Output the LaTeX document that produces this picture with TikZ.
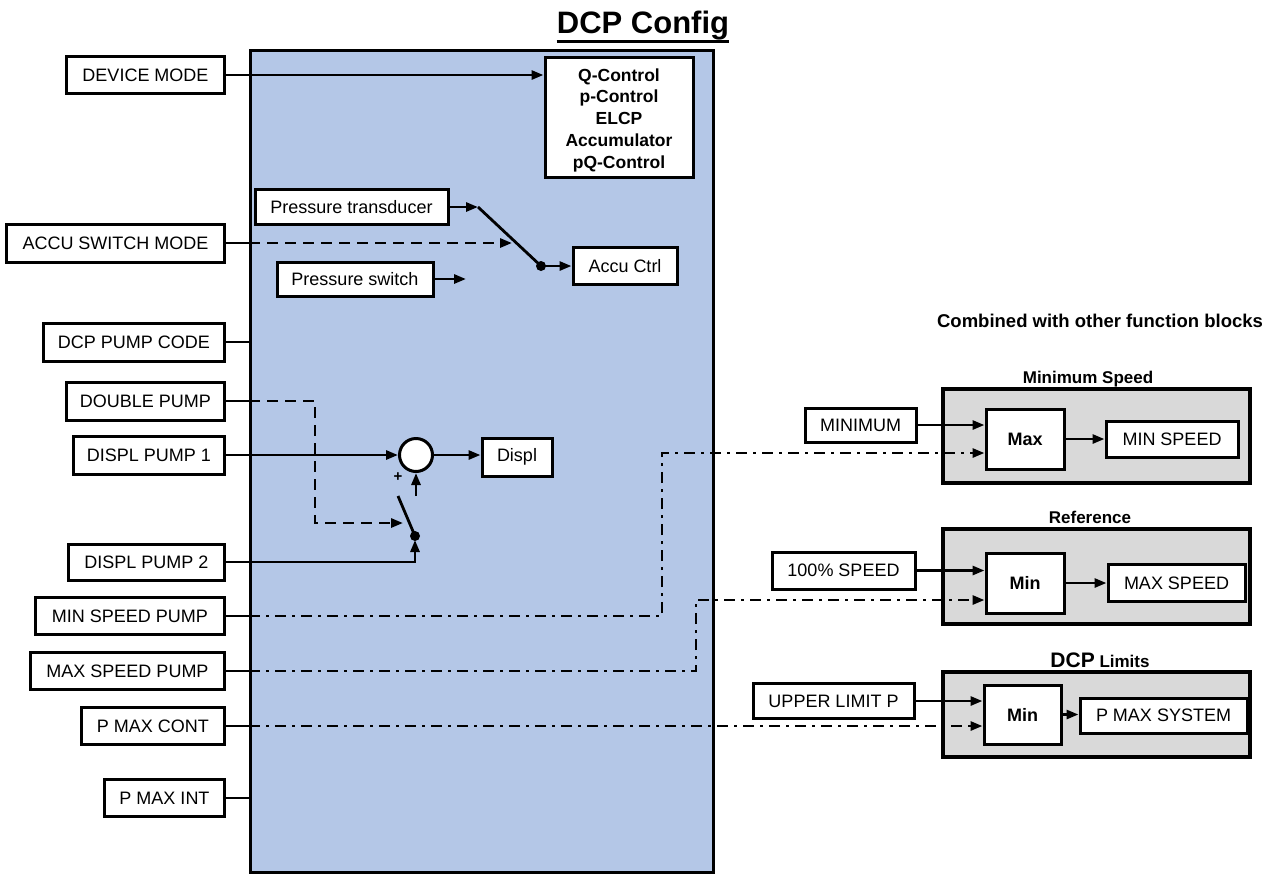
\documentclass[tikz,border=0pt]{standalone}
\usepackage{fontspec}
\setmainfont{Liberation Sans}
\usetikzlibrary{arrows.meta}
\definecolor{panelblue}{HTML}{B4C7E7}
\definecolor{panelgray}{HTML}{D9D9D9}
\begin{document}
\begin{tikzpicture}[x=1pt,y=-1pt,
  box/.style={draw=black,line width=3pt,fill=white,inner sep=0pt,font=\fontsize{18}{21}\selectfont},
  bbox/.style={box,font=\bfseries\fontsize{18}{21}\selectfont},
  grp/.style={draw=black,line width=3.2pt,fill=panelgray,inner sep=0pt},
  wire/.style={line width=2.8pt},
  arr/.style={wire,-{Triangle[length=12pt,width=9pt]}},
  dsh/.style={dash pattern=on 11pt off 7pt},
  dashdot/.style={dash pattern=on 11pt off 6pt on 3pt off 6pt},
  lbl/.style={font=\bfseries\fontsize{17}{20}\selectfont,inner sep=0pt,anchor=base}]
\useasboundingbox (0,0) rectangle (1271,873);

% title
\node[inner sep=0pt,anchor=base,font=\bfseries\fontsize{31}{36}\selectfont] (title) at (643,33) {DCP Config};
\draw[line width=3pt] ([yshift=-8pt]title.base west) -- ([yshift=-8pt]title.base east);

% main panel
\node[draw=black,line width=3.4pt,fill=panelblue,inner sep=0pt,minimum width=463pt,minimum height=822pt,anchor=north west] (panel) at (249,49) {};

% Q box
\node[bbox,minimum width=148pt,minimum height=120pt,align=center,font=\bfseries\fontsize{17.5}{21.75}\selectfont] (qbox) at (619,117) {};
\node[inner sep=0pt,align=center,font=\bfseries\fontsize{17.5}{21.75}\selectfont] (qtext) at (619,120)
  {Q-Control\\p-Control\\ELCP\\Accumulator\\pQ-Control};

% left inputs
\node[box,minimum width=158pt,minimum height=37pt,anchor=east] (dev) at (226,75) {DEVICE MODE};
\node[box,minimum width=218pt,minimum height=38pt,anchor=east] (accu) at (226,243) {ACCU SWITCH MODE};
\node[box,minimum width=181pt,minimum height=38pt,anchor=east] (pcode) at (226,342) {DCP PUMP CODE};
\node[box,minimum width=158pt,minimum height=38pt,anchor=east] (dbl) at (226,401) {DOUBLE PUMP};
\node[box,minimum width=151pt,minimum height=38pt,anchor=east] (dp1) at (226,455) {DISPL PUMP 1};
\node[box,minimum width=156pt,minimum height=36pt,anchor=east] (dp2) at (226,562) {DISPL PUMP 2};
\node[box,minimum width=189pt,minimum height=37pt,anchor=east] (minsp) at (226,616) {MIN SPEED PUMP};
\node[box,minimum width=194pt,minimum height=37pt,anchor=east] (maxsp) at (226,671) {MAX SPEED PUMP};
\node[box,minimum width=143pt,minimum height=37pt,anchor=east] (pcont) at (226,726) {P MAX CONT};
\node[box,minimum width=120pt,minimum height=37pt,anchor=east] (pint) at (226,798) {P MAX INT};

% inner blocks
\node[box,minimum width=193pt,minimum height=35pt] (ptr) at (351.5,207) {Pressure transducer};
\node[box,minimum width=156pt,minimum height=34pt] (psw) at (355,279) {Pressure switch};
\node[box,minimum width=104pt,minimum height=37pt] (actrl) at (625,266) {Accu Ctrl};
\node[draw=black,line width=3pt,fill=white,circle,minimum size=33pt,inner sep=0pt] (sum) at (416,455) {};
\node[box,minimum width=70pt,minimum height=38pt] (displ) at (517,457) {Displ};
\node[inner sep=0pt,font=\bfseries\fontsize{15}{15}\selectfont] (plus) at (398,477) {+};

% coordinates
\coordinate (pv) at (478,207);
\coordinate (sw) at (541,266);
\coordinate (psend) at (466,279);
\coordinate (accend) at (512,243);
\coordinate (dpA) at (249,401);
\coordinate (dpB) at (315,523);
\coordinate (dpC) at (403,523);
\coordinate (armtop) at (398,496);
\coordinate (armbot) at (415,536);
\coordinate (upb) at (416,496);

% connectors top part
\draw[arr] (dev.east) -- (dev.east -| qbox.west);
\draw[wire] (accu.east) -- (accu.east -| panel.west);
\draw[arr,dsh] (accu.east -| panel.west) -- (accend);
\draw[arr] (ptr.east) -- (pv);
\draw[wire] (pv) -- (sw);
\fill (sw) circle (5pt);
\draw[arr] (sw) -- (sw -| actrl.west);
\draw[arr] (psw.east) -- (psend);
\draw[wire] (pcode.east) -- (pcode.east -| panel.west);
\draw[wire] (pint.east) -- (pint.east -| panel.west);

% displacement part
\draw[wire] (dbl.east) -- (dpA);
\draw[arr,dsh] (dpA) -| (dpB) -- (dpC);
\draw[arr] (dp1.east) -- (dp1.east -| sum.west);
\draw[arr] (sum.east) -- (sum.east -| displ.west);
\draw[arr] (upb) -- (sum.south);
\draw[wire] (armtop) -- (armbot);
\fill (armbot) circle (5pt);
\draw[arr,shorten >=4pt] (dp2.east) -| (armbot);

% right groups
\node[lbl,font=\bfseries\fontsize{18.5}{22}\selectfont] (comb) at (1100,327) {Combined with other function blocks};

\node[grp,minimum width=307pt,minimum height=94pt] (g1) at (1096.5,436) {};
\node[lbl] (g1l) at (1088,383) {Minimum Speed};
\node[box,minimum width=111pt,minimum height=34pt] (minimum) at (860.5,425) {MINIMUM};
\node[bbox,minimum width=78pt,minimum height=60pt] (maxb) at (1025,439) {Max};
\node[box,minimum width=132pt,minimum height=36pt] (minspeed) at (1172,439) {MIN SPEED};

\node[grp,minimum width=307pt,minimum height=95pt] (g2) at (1096.5,576.5) {};
\node[lbl] (g2l) at (1090,523) {Reference};
\node[box,minimum width=143pt,minimum height=37pt] (hund) at (843.5,570.5) {100\% SPEED};
\node[bbox,minimum width=78pt,minimum height=60pt] (minb1) at (1025,583) {Min};
\node[box,minimum width=137pt,minimum height=37pt] (maxspeed) at (1176.5,583) {MAX SPEED};

\node[grp,minimum width=307pt,minimum height=85pt] (g3) at (1096.5,714.5) {};
\node[lbl] (g3l) at (1100,667) {{\fontsize{21}{24}\selectfont DCP} Limits};
\node[box,minimum width=161pt,minimum height=35pt] (upper) at (833.5,701) {UPPER LIMIT P};
\node[bbox,minimum width=77pt,minimum height=59pt] (minb2) at (1022.5,714.5) {Min};
\node[box,minimum width=167pt,minimum height=35pt] (pmaxsys) at (1163.5,715.5) {P MAX SYSTEM};

\draw[arr] (minimum.east) -- (minimum.east -| maxb.west);
\draw[arr] (maxb.east) -- (maxb.east -| minspeed.west);
\draw[arr] (hund.east) -- (hund.east -| minb1.west);
\draw[arr] (minb1.east) -- (minb1.east -| maxspeed.west);
\draw[arr] (upper.east) -- (upper.east -| minb2.west);
\draw[arr] (minb2.east) -- (minb2.east -| pmaxsys.west);

% dash-dot connectors
\coordinate (m1) at (662,453);
\coordinate (m2) at (696,600);
\draw[wire] (minsp.east) -- (minsp.east -| panel.west);
\draw[arr,dashdot] (minsp.east -| panel.west) -| (m1) -- (m1 -| maxb.west);
\draw[wire] (maxsp.east) -- (maxsp.east -| panel.west);
\draw[arr,dashdot] (maxsp.east -| panel.west) -| (m2) -- (m2 -| minb1.west);
\draw[wire] (pcont.east) -- (pcont.east -| panel.west);
\draw[arr,dashdot] (pcont.east -| panel.west) -- (pcont.east -| minb2.west);
\end{tikzpicture}
\end{document}
